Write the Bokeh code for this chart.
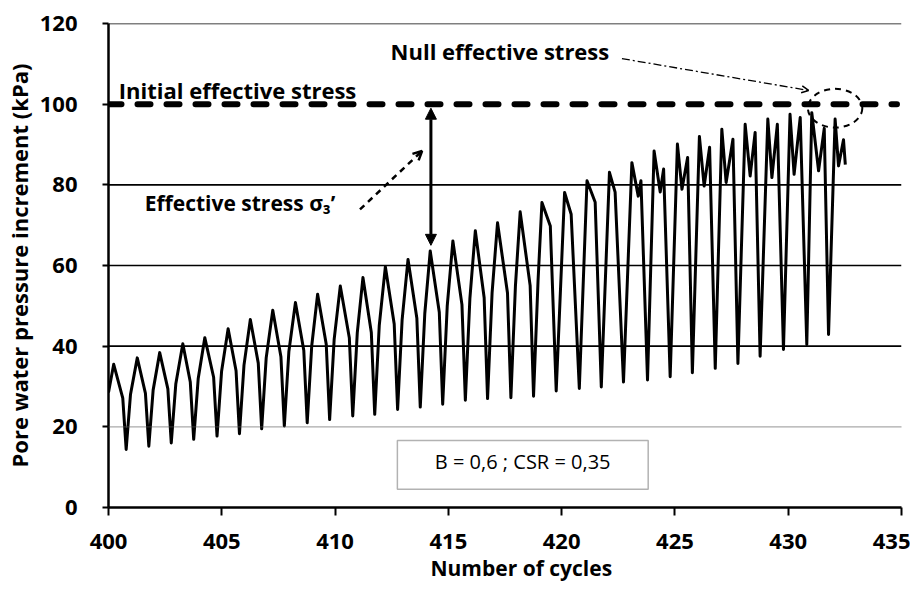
from bokeh.plotting import figure
from bokeh.models import (Span, Label, Arrow, NormalHead, OpenHead, Range1d, Title,
                          FixedTicker, BoxAnnotation, ColumnDataSource)
from bokeh.embed import file_html
from bokeh.resources import INLINE

# ---- data ----
start_x = [400.00]
start_y = [28.5]

peak_x = [400.23, 401.27, 402.26, 403.28, 404.25, 405.28, 406.26, 407.25, 408.25,
          409.23, 410.23, 411.23, 412.22, 413.22, 414.20, 415.20, 416.19, 417.17,
          418.17, 419.13, 420.13, 421.12, 422.11, 423.10, 424.08, 425.11, 426.08,
          427.07, 428.10, 429.10, 430.08, 431.04, 432.07]
peak_y = [35.5, 37.1, 38.4, 40.6, 42.1, 44.3, 46.6, 48.9, 50.8,
          52.9, 54.9, 57.0, 59.7, 61.5, 63.6, 66.1, 68.6, 70.6,
          73.3, 75.6, 78.1, 81.0, 83.1, 85.5, 88.4, 90.1, 92.0,
          93.8, 95.0, 96.3, 97.5, 97.9, 96.3]

trough_x = [400.78, 401.78, 402.77, 403.76, 404.79, 405.78, 406.76, 407.76, 408.77,
            409.76, 410.78, 411.75, 412.76, 413.76, 414.75, 415.75, 416.73, 417.76,
            418.76, 419.76, 420.78, 421.75, 422.73, 423.79, 424.79, 425.77, 426.78,
            427.78, 428.76, 429.79, 430.82, 431.78]
trough_y = [14.4, 15.2, 16.0, 16.9, 17.7, 18.3, 19.5, 20.2, 21.0,
            21.8, 22.7, 23.1, 24.3, 24.9, 25.6, 26.6, 27.0, 27.2,
            27.6, 28.9, 29.5, 29.9, 31.1, 31.6, 32.4, 33.4, 34.5,
            35.7, 37.5, 39.2, 40.4, 42.9]

# shoulder points on the rising flank of the arches
rise_x = [400.97, 401.97, 402.97, 403.96, 404.99, 405.98, 406.96, 407.96, 408.97,
          409.96, 410.98, 411.95, 412.96, 413.96, 414.95, 415.95, 416.93, 417.96, 418.96]
rise_y = [28.0, 29.1, 30.6, 32.0, 33.7, 35.3, 37.1, 38.6, 40.1,
          41.7, 43.3, 45.1, 46.6, 48.1, 49.9, 51.8, 53.2, 54.9, 56.4]

# shoulder points on the falling flank of the arches
fall_x = [400.63, 401.63, 402.62, 403.61, 404.64, 405.63, 406.61, 407.61, 408.62,
          409.61, 410.63, 411.60, 412.61, 413.61, 414.60, 415.60, 416.58, 417.61, 418.61]
fall_y = [27.1, 28.3, 29.4, 31.1, 32.3, 33.9, 35.8, 37.4, 38.9,
          40.5, 42.0, 43.4, 45.5, 46.9, 48.4, 50.3, 52.0, 53.2, 55.0]

# shoulders / dips after the main peak in the late cycles
dip_x = [419.50, 420.42, 421.48, 422.36, 423.38, 424.35, 425.31, 426.29, 427.26,
         428.32, 429.28, 430.26, 431.34, 432.22]
dip_y = [69.8, 72.7, 75.7, 78.2, 77.2, 78.2, 78.9, 79.7, 80.6,
         82.2, 81.8, 82.6, 83.5, 84.7]

# second hump before the drop in the late cycles
hump_x = [423.50, 424.50, 425.56, 426.53, 427.56, 428.54, 429.52, 430.53, 431.59, 432.44]
hump_y = [81.0, 83.9, 86.8, 89.3, 91.3, 93.0, 95.0, 96.7, 94.0, 91.2]

end_x = [432.52]
end_y = [85.0]

x_ticks = [400, 405, 410, 415, 420, 425, 430, 435]
y_ticks = [0, 20, 40, 60, 80, 100, 120]
solid_grid = [40, 60, 80, 120]
dotted_grid = [20]
initial_stress = 100

all_x = start_x + peak_x + trough_x + rise_x + fall_x + dip_x + hump_x + end_x
all_y = start_y + peak_y + trough_y + rise_y + fall_y + dip_y + hump_y + end_y
pts = sorted(zip(all_x, all_y))
src = ColumnDataSource(dict(x=[a for a, b in pts], y=[b for a, b in pts]))

BOLD = "Open Sans"

p = figure(width=910, height=592, output_backend="svg", toolbar_location=None,
           x_range=Range1d(400, 435), y_range=Range1d(0, 120),
           min_border_left=108, min_border_right=9, min_border_top=23,
           min_border_bottom=85)
p.outline_line_color = None
p.xgrid.grid_line_color = None
p.ygrid.grid_line_color = None

for lv in solid_grid:
    p.add_layout(Span(location=lv, dimension="width", line_color="black", line_width=1.6))
for lv in dotted_grid:
    p.add_layout(Span(location=lv, dimension="width", line_color="#555555",
                      line_width=1.2, line_dash="1 1"))

# initial effective stress
p.line([400, 434.8], [initial_stress, initial_stress], line_color="black",
       line_width=6, line_dash="13 16", line_cap="round")

# signal
p.line("x", "y", source=src, line_color="black", line_width=3, line_join="round")

# axes
for ax in (p.xaxis[0], p.yaxis[0]):
    ax.axis_line_color = "black"
    ax.axis_line_width = 2.5
    ax.major_tick_line_color = "black"
    ax.major_tick_line_width = 2
    ax.major_tick_in = 0
    ax.minor_tick_line_color = None
    ax.major_label_text_font = BOLD
    ax.major_label_text_font_style = "bold"
    ax.major_label_text_font_size = "22px"
    ax.major_label_text_color = "black"
    ax.axis_label_text_font = BOLD
    ax.axis_label_text_font_style = "bold"
    ax.axis_label_text_color = "black"

p.yaxis.axis_label_text_font_size = "22px"
p.xaxis.ticker = FixedTicker(ticks=x_ticks)
p.yaxis.ticker = FixedTicker(ticks=y_ticks)
p.xaxis.major_tick_out = 8
p.yaxis.major_tick_out = 6
p.xaxis.major_label_standoff = 18
p.yaxis.major_label_standoff = 25
p.yaxis.axis_label = "Pore water pressure increment (kPa)"
p.yaxis.axis_label_standoff = 3

# x-axis title (centred on the whole chart, as in the source, so right of the plot centre)
p.add_layout(Title(text="Number of cycles", align="left", offset=322, standoff=0,
                   text_font=BOLD, text_font_style="bold", text_font_size="21px",
                   text_color="black"), "below")

# annotations
def bold_label(x, y, text, size="22px"):
    return Label(x=x, y=y, text=text, text_font=BOLD, text_font_style="bold",
                 text_font_size=size, text_color="black",
                 text_baseline="alphabetic")

p.add_layout(bold_label(400.45, 103.6, "Initial effective stress"))
p.add_layout(bold_label(412.45, 113.1, "Null effective stress"))
p.add_layout(bold_label(401.6, 75.6, "Effective stress σ₃’", size="21px"))

# double arrow for effective stress
p.add_layout(Arrow(x_start=414.23, y_start=99.0, x_end=414.23, y_end=65.0,
                   line_width=3, line_color="black",
                   start=NormalHead(size=11, fill_color="black", line_color="black"),
                   end=NormalHead(size=11, fill_color="black", line_color="black")))
# dashed pointer
p.add_layout(Arrow(x_start=411.1, y_start=73.9, x_end=413.84, y_end=88.4,
                   line_width=2.5, line_dash="6 5", line_color="black",
                   end=OpenHead(size=9, line_width=2.5, line_color="black")))
# null effective stress pointer
p.add_layout(Arrow(x_start=422.66, y_start=111.3, x_end=430.9, y_end=103.4,
                   line_width=1.3, line_dash="8 3 2 3", line_color="black",
                   end=OpenHead(size=7, line_width=1.5, line_color="black")))
# dashed ellipse
p.ellipse(x=[432.07], y=[99.0], width=[2.4], height=[9.6], fill_color=None,
          line_color="black", line_width=2, line_dash="6 5")

# parameter box
p.add_layout(BoxAnnotation(left=412.75, right=423.82, bottom=4.5, top=16.6,
                           fill_color="white", fill_alpha=1.0,
                           line_color="black", line_width=1.5))
p.add_layout(Label(x=418.28, y=11.4, text="B = 0,6 ; CSR = 0,35",
                   text_align="center", text_baseline="middle",
                   text_font="Open Sans", text_font_size="20px", text_color="black"))

open("out.html", "w").write(file_html(p, INLINE))
